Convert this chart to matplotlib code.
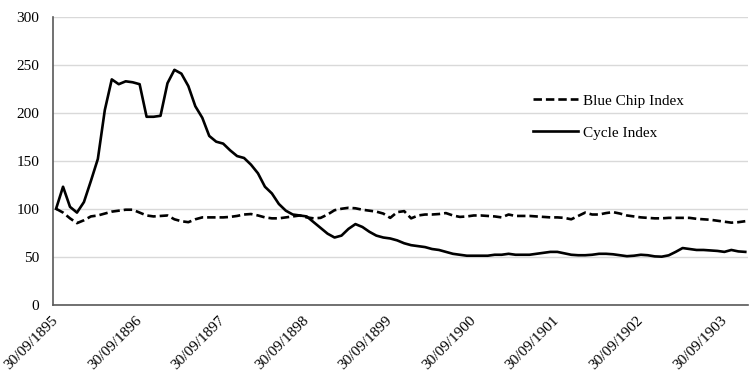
import matplotlib.pyplot as plt
import numpy as np

plt.rcParams['font.family'] = ['Liberation Serif', 'DejaVu Serif']

# monthly values, 30/09/1895 onwards
cycle_index = [100, 123, 102, 96, 107, 129, 152, 203, 235, 230,
               233, 232, 230, 196, 196, 197, 231, 245, 241, 228,
               207, 195, 176, 170, 168, 161, 155, 153, 146, 137,
               123, 116, 105, 98, 94, 93,
               92, 86, 80, 74, 70, 72, 79, 84, 81, 76, 72, 70, 69, 67, 64, 62, 61,
               60, 58, 57, 55, 53, 52, 51, 51, 51, 51, 52, 52, 53, 52, 52, 52, 53,
               54, 55, 55, 53.5, 52, 51.5, 51.5, 52, 53, 53, 52.5, 51.5, 50.5, 51, 52,
               51.5, 50.3, 50, 51.4, 55, 59, 58, 57, 57, 56.5, 56, 55, 57, 55.5, 55]

blue_chip_index = [100, 96, 90, 85, 88, 92, 93, 95, 97, 98,
                   99, 99, 96, 93, 92, 92.5, 93, 89, 87, 86,
                   89, 91, 91, 91, 91, 91.5, 92.5, 94, 94.5, 93,
                   91, 90, 90, 91, 92, 93,
                   91, 90, 90.5, 94, 98.5, 100, 101, 100.5, 99, 98, 97, 95, 90.5, 96.5, 97.5, 90, 93,
                   94, 94, 94.5, 95.5, 93, 91.5, 92, 93, 93, 92.5, 92, 91, 94, 92.5, 92.5, 92.5, 92,
                   91.5, 91, 91, 90.5, 89, 92.5, 96, 94, 94, 95.5, 96.5, 95, 93, 92, 91,
                   90.5, 90, 90, 90.5, 90.5, 90.5, 90.5, 89.5, 89, 88.5, 87.5, 86.5, 85.5, 86, 87]

tick_labels = ['30/09/1895', '30/09/1896', '30/09/1897', '30/09/1898', '30/09/1899',
               '30/09/1900', '30/09/1901', '30/09/1902', '30/09/1903']

x = np.arange(len(cycle_index))

fig = plt.figure(figsize=(7.56, 3.89), dpi=100)
ax = fig.add_axes([0.0705, 0.217, 0.919, 0.739])

ax.plot(x, blue_chip_index, color='black', lw=1.9, linestyle=(0, (3.2, 1.5)),
        label='Blue Chip Index')
ax.plot(x, cycle_index, color='black', lw=1.9, label='Cycle Index')

ax.set_xlim(-0.4, len(x) - 0.6)
ax.set_ylim(0, 300)
ax.set_yticks(range(0, 301, 50))
ax.set_xticks(x[::12])
ax.set_xticklabels(tick_labels, rotation=45, ha='right', va='center',
                   rotation_mode='anchor', fontsize=11)
ax.tick_params(axis='y', length=0, pad=10, labelsize=11)
ax.tick_params(axis='x', length=0, pad=10)

ax.grid(axis='y', color='#d9d9d9', lw=1)
ax.set_axisbelow(True)
for s in ['top', 'right']:
    ax.spines[s].set_visible(False)
for s in ['left', 'bottom']:
    ax.spines[s].set_color('#595959')
    ax.spines[s].set_linewidth(1.2)

ax.legend(loc='upper left', bbox_to_anchor=(533 / 756, 1 - 94 / 389),
          bbox_transform=fig.transFigure, frameon=False, fontsize=11,
          handlelength=2.95, handletextpad=0.35, labelspacing=1.2,
          borderpad=0, borderaxespad=0)

plt.savefig('out.png', dpi=100)
plt.close()
